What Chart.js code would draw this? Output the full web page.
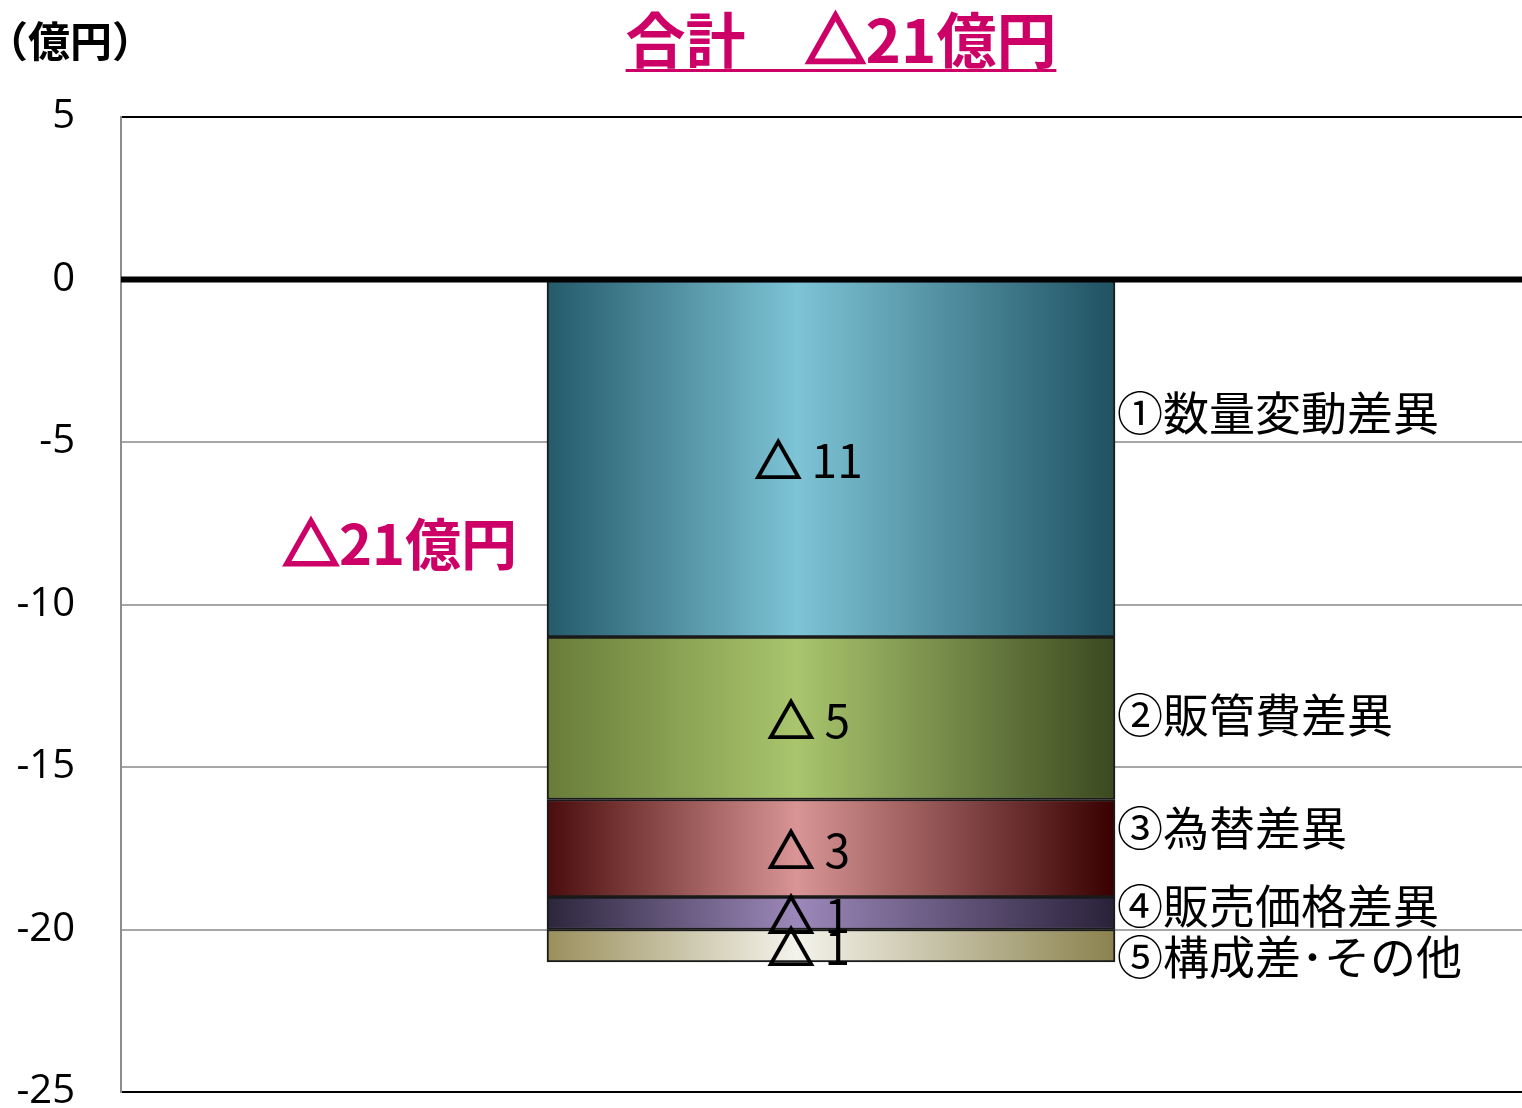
<!DOCTYPE html>
<html>
<head>
<meta charset="utf-8">
<script src="https://cdn.jsdelivr.net/npm/chart.js@4/dist/chart.umd.min.js"></script>
<style>
html,body{margin:0;padding:0;background:#fff;overflow:hidden;width:1522px;height:1108px;}
#wrap{position:absolute;left:0;top:0;width:1541px;height:1108px;}
</style>
</head>
<body>
<div id="wrap"><canvas id="c" width="1541" height="1108"></canvas></div>
<script>
// ---- data ----
const categories = ['合計'];
const seriesNames = ['①数量変動差異', '②販管費差異', '③為替差異', '④販売価格差異', '⑤構成差･その他'];
const seriesValues = [-11, -5, -3, -1, -1];
const yTicks = [5, 0, -5, -10, -15, -20, -25];
const unitLabel = '（億円）';
const titlePrefix = '合計　';
const totalLabel = '△21億円';

// ---- styles ----
const gradients = [
  ['#245a6a', '#7dc4d6', '#1f5262'],
  ['#687c38', '#a9c56d', '#3b4920'],
  ['#4a0c0c', '#d99595', '#380000'],
  ['#2c263c', '#9c88ba', '#29213a'],
  ['#9a8f5c', '#f4f3eb', '#8b824e']
];
const BAR_W = 568;
const MAGENTA = '#cc0066';
const CJK = '"Noto Sans CJK JP", "Noto Sans", sans-serif';
const labelOffsets = [-46, -4, -21, -8, 11];

function gradFor(i) {
  return function (c) {
    const ch = c.chart;
    const xs = ch.scales && ch.scales.x;
    if (!xs || !ch.chartArea) return gradients[i][1];
    const cx = xs.getPixelForValue(0);
    const l = cx - BAR_W / 2, r = cx + BAR_W / 2;
    const g = ch.ctx.createLinearGradient(l, 0, r, 0);
    g.addColorStop(0, gradients[i][0]);
    g.addColorStop(0.44, gradients[i][1]);
    g.addColorStop(1, gradients[i][2]);
    return g;
  };
}

const datasets = seriesNames.map((name, i) => ({
  label: name,
  data: [seriesValues[i]],
  backgroundColor: gradFor(i),
  borderColor: '#1a1a1a',
  borderWidth: 2,
  borderSkipped: false,
  barThickness: BAR_W,
  stack: 's'
}));

// draws text whose leading △ is thickened by a stroke
function drawTriText(ctx, text, x, y, strokeW) {
  ctx.fillText(text, x, y);
  ctx.lineWidth = strokeW;
  ctx.strokeStyle = ctx.fillStyle;
  ctx.lineJoin = 'miter';
  ctx.strokeText(text.charAt(0), x, y);
}

const overlay = {
  id: 'overlay',
  afterDatasetsDraw(chart) {
    const ctx = chart.ctx;
    const ys = chart.scales.y;
    const area = chart.chartArea;
    const zy = ys.getPixelForValue(0);
    ctx.save();
    ctx.strokeStyle = '#000';
    ctx.lineWidth = 6;
    ctx.beginPath();
    ctx.moveTo(area.left, zy);
    ctx.lineTo(area.right, zy);
    ctx.stroke();

    let barLeft = 0;
    chart.data.datasets.forEach((ds, i) => {
      const el = chart.getDatasetMeta(i).data[0];
      const cy = (el.y + el.base) / 2;
      barLeft = el.x - el.width / 2;
      const right = el.x + el.width / 2;
      ctx.fillStyle = '#000';
      ctx.textBaseline = 'middle';
      ctx.textAlign = 'left';
      ctx.font = '46px ' + CJK;
      const txt = '△ ' + Math.abs(ds.data[0]);
      const w = ctx.measureText(txt).width;
      drawTriText(ctx, txt, el.x - 22 - w / 2, cy + 2, 2.2);
      ctx.fillText(ds.label, right + 2, cy + labelOffsets[i]);
    });

    // total label left of bar
    ctx.fillStyle = MAGENTA;
    ctx.font = 'bold 56px ' + CJK;
    ctx.textAlign = 'left';
    ctx.textBaseline = 'middle';
    const tw = ctx.measureText(totalLabel).width;
    drawTriText(ctx, totalLabel, barLeft - 30 - tw, zy + 264, 3);

    // unit label
    ctx.fillStyle = '#000';
    ctx.font = 'bold 42px ' + CJK;
    ctx.textAlign = 'left';
    ctx.textBaseline = 'alphabetic';
    ctx.fillText(unitLabel, -14, 57);

    // title with underline
    ctx.fillStyle = MAGENTA;
    ctx.font = 'bold 60px ' + CJK;
    ctx.textAlign = 'left';
    ctx.textBaseline = 'alphabetic';
    const titleText = titlePrefix + totalLabel;
    const w = ctx.measureText(titleText).width;
    const pw = ctx.measureText(titlePrefix).width;
    const tx = 841 - w / 2;
    ctx.fillText(titlePrefix, tx, 63);
    drawTriText(ctx, totalLabel, tx + pw, 63, 3.2);
    ctx.fillRect(tx, 69, w, 3);
    ctx.restore();
  }
};

new Chart(document.getElementById('c'), {
  type: 'bar',
  data: { labels: categories, datasets },
  options: {
    responsive: false,
    devicePixelRatio: 1,
    animation: false,
    layout: { padding: { top: 117, bottom: 16, left: 0, right: 0 } },
    plugins: { legend: { display: false }, tooltip: { enabled: false }, title: { display: false } },
    scales: {
      x: { display: false, stacked: true, grid: { display: false } },
      y: {
        stacked: true,
        min: -25, max: 5,
        afterFit(s) { s.width = 121; s.paddingTop = 0; s.paddingBottom = 0; },
        afterBuildTicks(s) { s.ticks = yTicks.map(v => ({ value: v })); },
        ticks: {
          padding: 46,
          color: '#000',
          font: { family: '"Open Sans", sans-serif', size: 40 },
          callback: v => String(v)
        },
        grid: {
          drawTicks: false,
          color: c => (c.tick && (c.tick.value === 5 || c.tick.value === -25)) ? '#000' : (c.tick && c.tick.value === 0 ? 'rgba(0,0,0,0)' : '#a6a6a6'),
          lineWidth: 2
        },
        border: { display: true, color: '#8c8c8c', width: 2 }
      }
    }
  },
  plugins: [overlay]
});
</script>
</body>
</html>
